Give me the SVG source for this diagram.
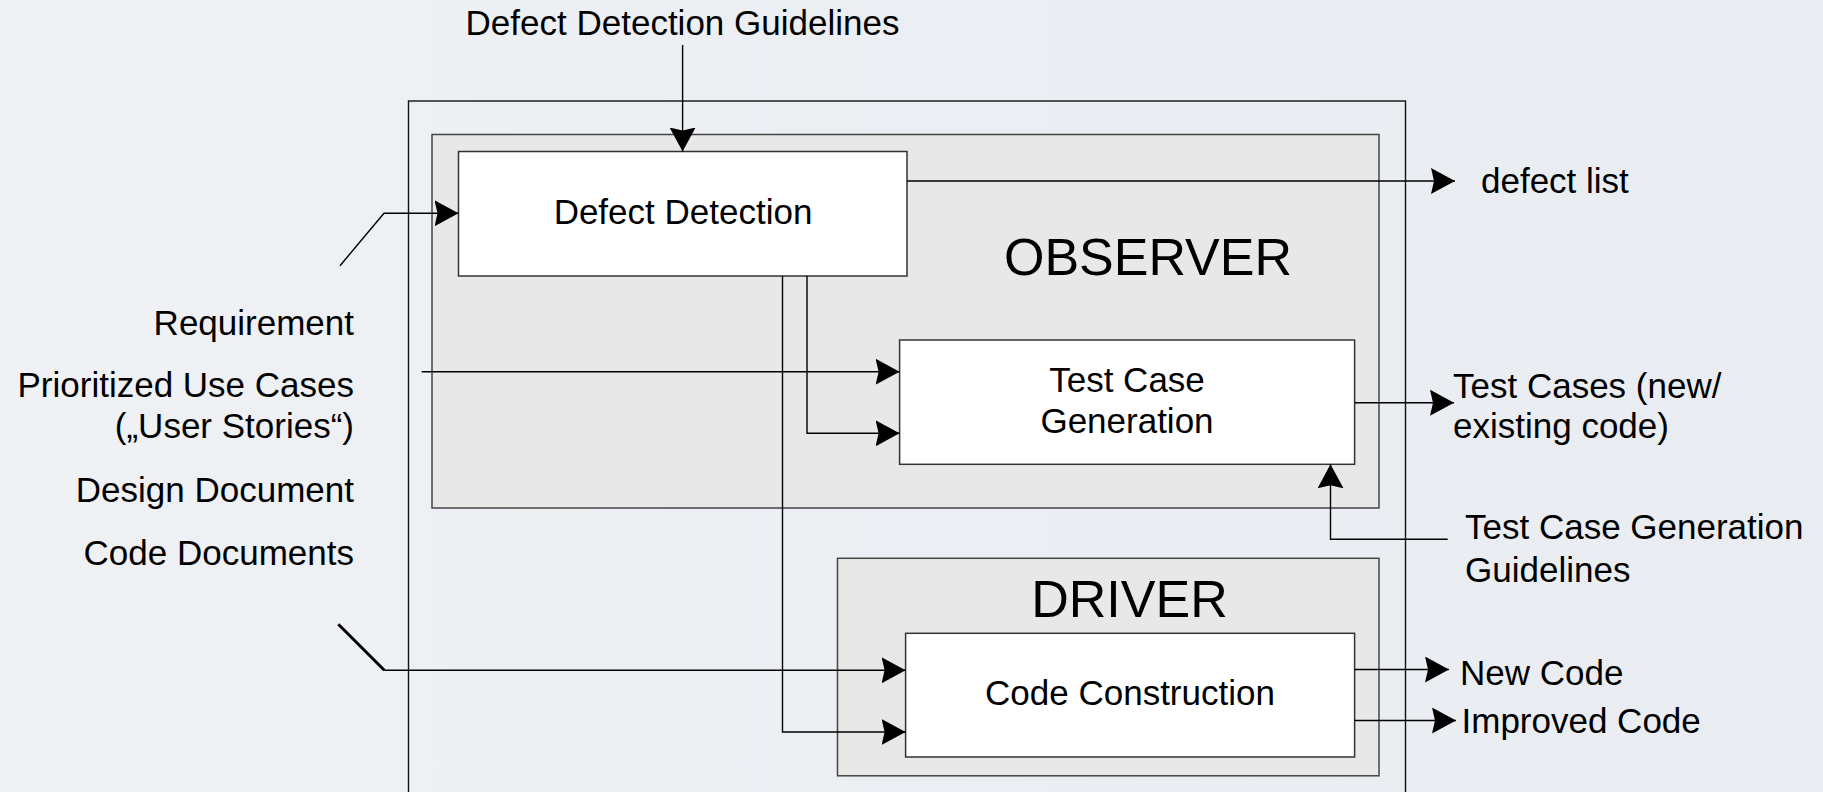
<svg xmlns="http://www.w3.org/2000/svg" width="1823" height="792" viewBox="0 0 1823 792">
<defs>
<linearGradient id="bg" x1="0" y1="0" x2="1" y2="0">
<stop offset="0" stop-color="#eff1f5"/>
<stop offset="0.5" stop-color="#ebeef2"/>
<stop offset="1" stop-color="#e9edf2"/>
</linearGradient>
<marker id="arr" markerUnits="userSpaceOnUse" markerWidth="25" markerHeight="26" refX="24" refY="13" orient="auto" viewBox="0 0 25 26">
<path d="M0,0 L24,13 L0,26 L3,13 Z" fill="#000"/>
</marker>
<style>
.t{font-family:"Liberation Sans",Arial,sans-serif;font-size:35px;fill:#000}
.big{font-family:"Liberation Sans",Arial,sans-serif;font-size:52px;fill:#000}
.box{fill:#fff;stroke:#333;stroke-width:1.5}
.grp{fill:#e8e8e8;stroke:#444;stroke-width:1.5}
.c{fill:none;stroke:#000;stroke-width:1.4}
.thick{stroke-width:3}
</style>
</defs>
<rect x="0" y="0" width="1823" height="792" fill="url(#bg)"/>

<g id="outer">
<rect x="408.5" y="101" width="997" height="720" fill="none" stroke="#111" stroke-width="1.4"/>
</g>

<g id="observer">
<rect class="grp" x="432" y="134.5" width="947" height="373.5"/>
<text class="big" x="1148" y="275" text-anchor="middle">OBSERVER</text>
</g>

<g id="driver">
<rect class="grp" x="837.5" y="558.3" width="541.5" height="217.5"/>
<text class="big" x="1129.5" y="617.3" text-anchor="middle">DRIVER</text>
</g>

<g id="defect-detection">
<rect class="box" x="458.5" y="151.5" width="448.5" height="124.5"/>
<text class="t" x="683" y="224" text-anchor="middle">Defect Detection</text>
</g>

<g id="test-case-generation">
<rect class="box" x="899.6" y="340" width="455" height="124.3"/>
<text class="t" x="1127" y="391.7" text-anchor="middle">Test Case</text>
<text class="t" x="1127" y="433" text-anchor="middle">Generation</text>
</g>

<g id="code-construction">
<rect class="box" x="905.6" y="633.3" width="449" height="123.7"/>
<text class="t" x="1130" y="705" text-anchor="middle">Code Construction</text>
</g>

<g id="connectors">
<path class="c" d="M682.6,45 V151.5" marker-end="url(#arr)"/>
<path class="c" d="M340,265.7 L384,213.3 H458.5" marker-end="url(#arr)"/>
<path class="c" d="M907,181 H1455" marker-end="url(#arr)"/>
<path class="c" d="M421.7,371.7 H899.6" marker-end="url(#arr)"/>
<path class="c" d="M807,276 V433.3 H899.6" marker-end="url(#arr)"/>
<path class="c" d="M782.5,276 V732 H905.6" marker-end="url(#arr)"/>
<path class="c" d="M1354.5,402.7 H1454" marker-end="url(#arr)"/>
<path class="c" d="M1447.7,539.3 H1330.5 V464.3" marker-end="url(#arr)"/>
<path class="c thick" d="M338.3,624.3 L384.3,670.3"/>
<path class="c" d="M384.3,670.3 H905.6" marker-end="url(#arr)"/>
<path class="c" d="M1354.6,669.5 H1449" marker-end="url(#arr)"/>
<path class="c" d="M1354.6,720.5 H1456" marker-end="url(#arr)"/>
</g>

<g id="labels">
<text class="t" x="682.5" y="35" text-anchor="middle">Defect Detection Guidelines</text>
<text class="t" x="354" y="335" text-anchor="end">Requirement</text>
<text class="t" x="354" y="397.3" text-anchor="end">Prioritized Use Cases</text>
<text class="t" x="354" y="438.3" text-anchor="end">(„User Stories“)</text>
<text class="t" x="354" y="502.3" text-anchor="end">Design Document</text>
<text class="t" x="354" y="565" text-anchor="end">Code Documents</text>
<text class="t" x="1481" y="192.5">defect list</text>
<text class="t" x="1453" y="398.3">Test Cases (new/</text>
<text class="t" x="1453" y="438.3">existing code)</text>
<text class="t" x="1465" y="539.3">Test Case Generation</text>
<text class="t" x="1465" y="581.7">Guidelines</text>
<text class="t" x="1460" y="685">New Code</text>
<text class="t" x="1461.5" y="732.7">Improved Code</text>
</g>
</svg>
